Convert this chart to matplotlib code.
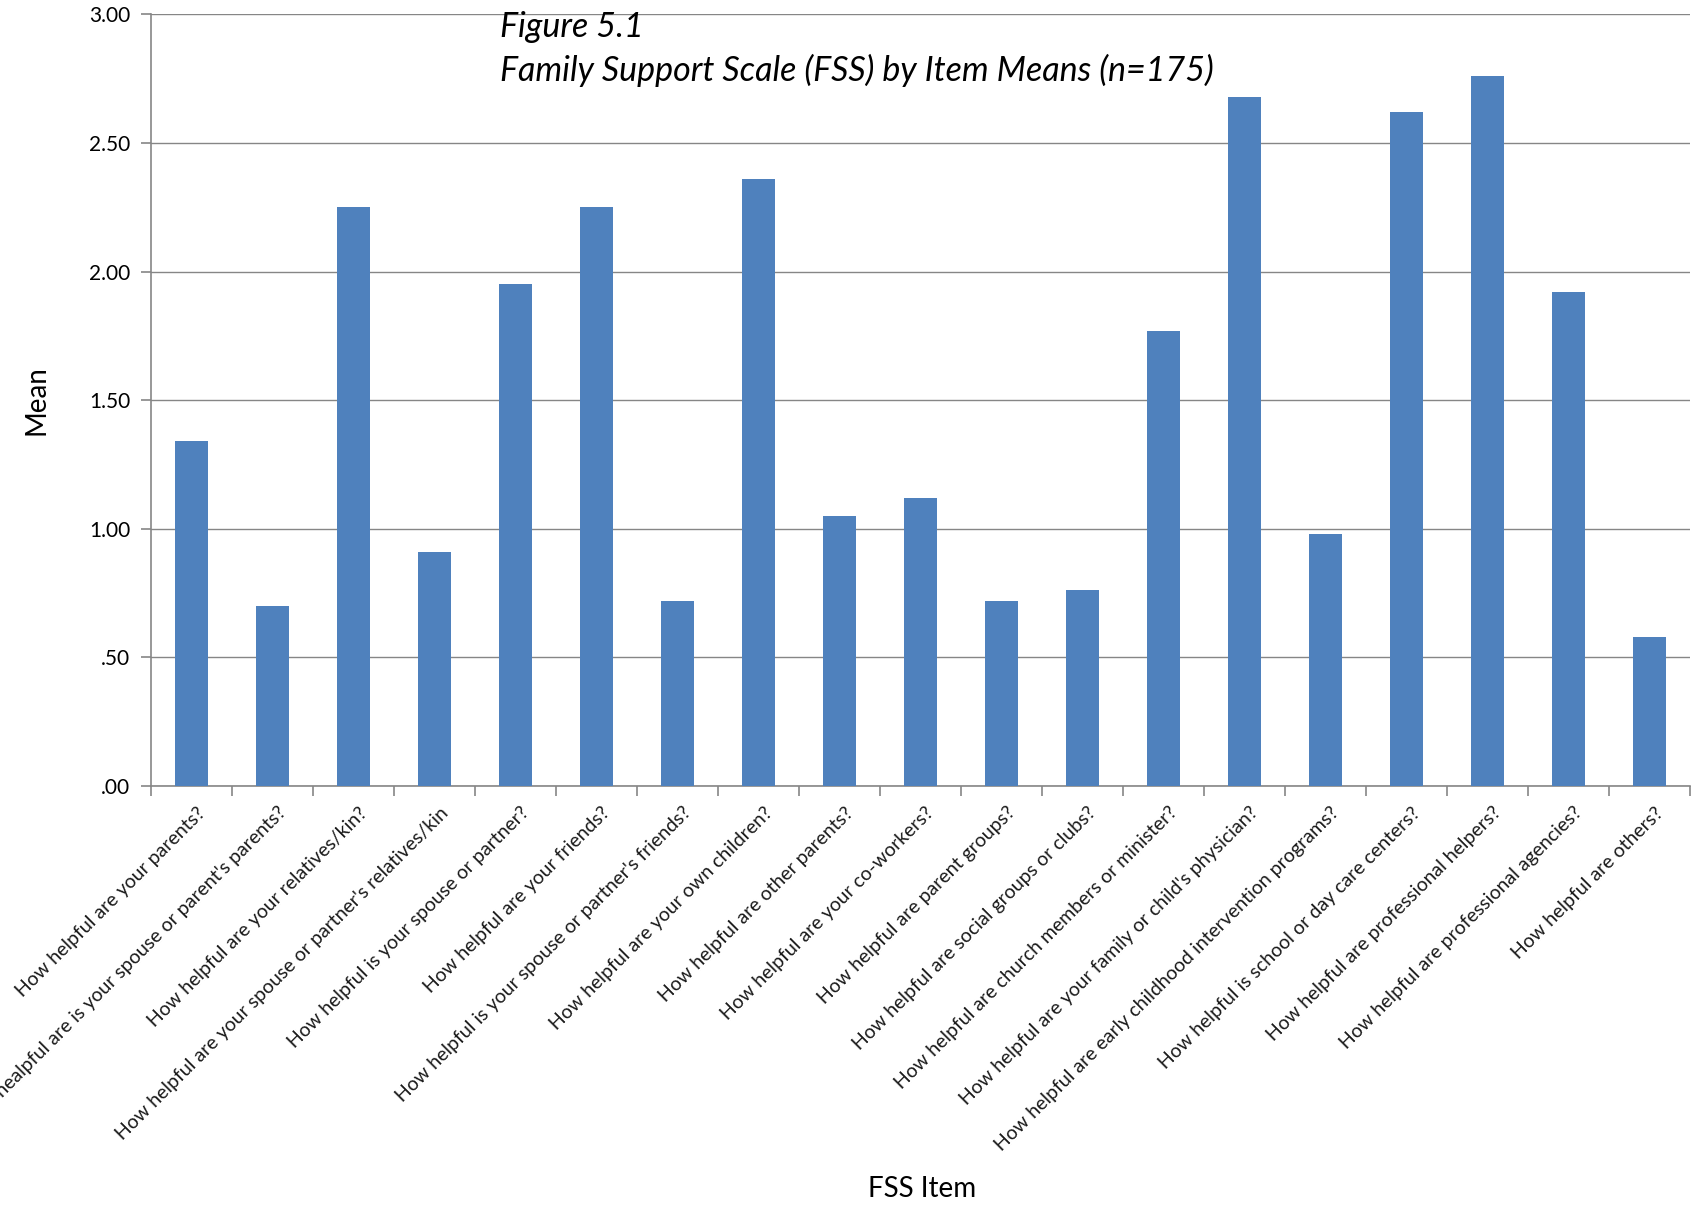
import matplotlib.pyplot as plt
import matplotlib.transforms as mtransforms
from matplotlib.ticker import FixedLocator, FuncFormatter

items = [
    "How helpful are your parents?",
    "How healpful are is your spouse or parent's parents?",
    "How helpful are your relatives/kin?",
    "How helpful are your spouse or partner's relatives/kin",
    "How helpful is your spouse or partner?",
    "How helpful are your friends?",
    "How helpful is your spouse or partner's friends?",
    "How helpful are your own children?",
    "How helpful are other parents?",
    "How helpful are your co-workers?",
    "How helpful are parent groups?",
    "How helpful are social groups or clubs?",
    "How helpful are church members or minister?",
    "How helpful are your family or child's physician?",
    "How helpful are early childhood intervention programs?",
    "How helpful is school or day care centers?",
    "How helpful are professional helpers?",
    "How helpful are professional agencies?",
    "How helpful are others?",
]
means = [1.34, 0.70, 2.25, 0.91, 1.95, 2.25, 0.72, 2.36, 1.05, 1.12,
         0.72, 0.76, 1.77, 2.68, 0.98, 2.62, 2.76, 1.92, 0.58]
y_ticks = [0.0, 0.5, 1.0, 1.5, 2.0, 2.5, 3.0]

font = "Lato"
grey = "#868686"

fig = plt.figure(figsize=(16.95, 12.07), dpi=100)
ax = fig.add_axes([0.089, 0.349, 0.908, 0.639])

x = list(range(len(items)))
ax.bar(x, means, width=0.4, color="#4F81BD", zorder=3)

ax.set_xlim(-0.5, len(items) - 0.5)
ax.set_ylim(0, 3.0)
ax.yaxis.set_major_locator(FixedLocator(y_ticks))
ax.yaxis.set_major_formatter(FuncFormatter(lambda v, p: f"{v:.2f}".lstrip("0")))
ax.grid(axis="y", color=grey, linewidth=1.0, zorder=0)

for s in ["top", "right"]:
    ax.spines[s].set_visible(False)
for s in ["left", "bottom"]:
    ax.spines[s].set_color(grey)
    ax.spines[s].set_linewidth(1.2)

# category boundaries carry the tick marks, centres carry the labels
ax.set_xticks(x)
ax.set_xticks([i - 0.5 for i in range(len(items) + 1)], minor=True)
ax.tick_params(axis="x", which="major", length=0, pad=16)
ax.tick_params(axis="x", which="minor", length=7, color=grey, width=1.2)
ax.tick_params(axis="y", length=7, color=grey, width=1.2, pad=8)
ax.set_xticklabels(items, rotation=45, ha="right", va="center",
                   rotation_mode="anchor", fontsize=14, family=font,
                   color="#1a1a1a")
shift = mtransforms.ScaledTranslation(0.11, -0.02, fig.dpi_scale_trans)
for lab in ax.get_xticklabels():
    lab.set_transform(lab.get_transform() + shift)
for lab in ax.get_yticklabels():
    lab.set_fontsize(15)
    lab.set_family(font)

ax.set_ylabel("Mean", fontsize=20, family=font, labelpad=28)
fig.text(0.544, 0.004, "FSS Item", fontsize=20, family=font,
         ha="center", va="bottom")

fig.text(0.295, 0.978, "Figure 5.1", fontsize=24.5, family=font,
         style="italic", va="center")
fig.text(0.295, 0.942, "Family Support Scale (FSS) by Item Means (n=175)",
         fontsize=24.5, family=font, style="italic", va="center")

fig.savefig("out.png", dpi=100)
